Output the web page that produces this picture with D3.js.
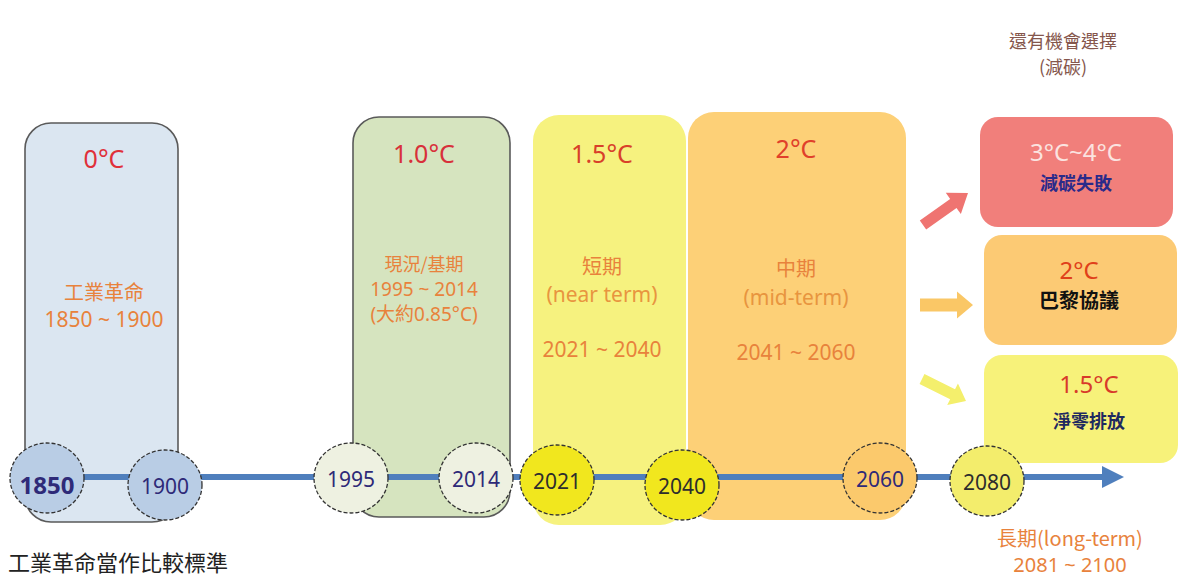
<!DOCTYPE html>
<html><head><meta charset="utf-8">
<script src="https://cdn.jsdelivr.net/npm/d3@7"></script>
<style>html,body{margin:0;padding:0;background:#fff}svg{display:block}</style>
</head><body>
<svg id="c" width="1188" height="580"></svg>
<script>
// ---- data ----
const years = [1850, 1900, 1995, 2014, 2021, 2040, 2060, 2080];
const periodNames = ["工業革命", "現況/基期", "短期", "中期"];
const periodSubs = ["", "", "(near term)", "(mid-term)"];
const periodRanges = ["1850 ~ 1900", "1995 ~ 2014", "2021 ~ 2040", "2041 ~ 2060"];
const periodTemps = ["0°C", "1.0°C", "1.5°C", "2°C"];
const periodNotes = ["", "(大約0.85°C)", "", ""];
const outcomeTemps = ["3°C~4°C", "2°C", "1.5°C"];
const outcomeLabels = ["減碳失敗", "巴黎協議", "淨零排放"];
const headerLines = ["還有機會選擇", "(減碳)"];
const longTermLines = ["長期(long-term)", "2081 ~ 2100"];
const footNote = "工業革命當作比較標準";

// ---- layout (positions / styles) ----
const yearX = [47, 165, 351, 476, 557, 682, 880, 987];
const yearY = [478, 485, 478, 478, 480, 485, 478, 481];
const x = d3.scaleLinear().domain(years).range(yearX);
const circleFill = ["#b9cde5", "#b9cde5", "#eef1e1", "#eef1e1", "#f1e71e", "#f1e71e", "#fbc96c", "#f3ed6c"];
const panels = [
  {x0:25, x1:178, y0:123, y1:522, fill:"#dbe6f1", stroke:"#5a5a5a", tx:104, tTemp:168, tName:300, tSub:null, tRange:327, tNote:null, tempColor:"#e0303a", fs:21},
  {x0:353, x1:510, y0:117, y1:517, fill:"#d6e4bf", stroke:"#5a5a5a", tx:424, tTemp:163, tName:271, tSub:null, tRange:296, tNote:321, tempColor:"#d8303a", fs:19},
  {x0:533, x1:686, y0:115, y1:525, fill:"#f6f27f", stroke:null, tx:602, tTemp:163, tName:274, tSub:302, tRange:357, tNote:null, tempColor:"#d8402a", fs:21},
  {x0:688, x1:906, y0:112, y1:520, fill:"#fdd077", stroke:null, tx:796, tTemp:158, tName:276, tSub:305, tRange:360, tNote:null, tempColor:"#e0402a", fs:21}
];
const outcomes = [
  {x0:980, x1:1173, y0:117, y1:227, fill:"#f17f7b", tempColor:"#fbe3e0", labColor:"#2a2a8a", tx:1076, ty1:161, ty2:190},
  {x0:984, x1:1177, y0:235, y1:345, fill:"#fcca74", tempColor:"#e0401a", labColor:"#111111", tx:1079, ty1:279, ty2:308},
  {x0:984, x1:1178, y0:355, y1:463, fill:"#f7f27a", tempColor:"#d83a2a", labColor:"#1f2a60", tx:1089, ty1:393, ty2:428}
];
const arrows = [
  {x1:923, y1:225, x2:968, y2:193, fill:"#ef7471", w:11, hw:26, hl:18},
  {x1:920, y1:305, x2:973, y2:305, fill:"#fac766", w:13, hw:27, hl:16},
  {x1:922, y1:379, x2:966, y2:401, fill:"#f4ef6c", w:11, hw:24, hl:15}
];

const svg = d3.select("#c");
const cjk = "'Noto Sans CJK TC','Noto Sans',sans-serif";
const lat = "'Noto Sans','Noto Sans CJK TC',sans-serif";

svg.selectAll("rect.panel").data(panels).join("rect")
  .attr("x", d => d.x0).attr("y", d => d.y0)
  .attr("width", d => d.x1 - d.x0).attr("height", d => d.y1 - d.y0)
  .attr("rx", 26).attr("ry", 26)
  .attr("fill", d => d.fill)
  .attr("stroke", d => d.stroke || "none").attr("stroke-width", 1.6);

svg.selectAll("rect.out").data(outcomes).join("rect")
  .attr("x", d => d.x0).attr("y", d => d.y0)
  .attr("width", d => d.x1 - d.x0).attr("height", d => d.y1 - d.y0)
  .attr("rx", 18).attr("ry", 18).attr("fill", d => d.fill);

arrows.forEach(a => {
  const dx = a.x2 - a.x1, dy = a.y2 - a.y1, L = Math.hypot(dx, dy);
  const ang = Math.atan2(dy, dx) * 180 / Math.PI;
  const p = [[0, -a.w/2], [L - a.hl, -a.w/2], [L - a.hl, -a.hw/2], [L, 0], [L - a.hl, a.hw/2], [L - a.hl, a.w/2], [0, a.w/2]];
  svg.append("path")
    .attr("d", d3.line()(p) + "Z")
    .attr("transform", `translate(${a.x1},${a.y1}) rotate(${ang})`)
    .attr("fill", a.fill);
});

const tlY = 477;
svg.append("line").attr("x1", x(1850)).attr("x2", 1104).attr("y1", tlY).attr("y2", tlY)
  .attr("stroke", "#4f7fbd").attr("stroke-width", 6);
svg.append("path").attr("d", d3.line()([[1102, tlY - 11], [1124, tlY], [1102, tlY + 11]]) + "Z")
  .attr("fill", "#4f7fbd");

const g = svg.selectAll("g.yr").data(years).join("g")
  .attr("transform", (d, i) => `translate(${x(d)},${yearY[i]})`);
g.append("ellipse").attr("rx", 37).attr("ry", 35)
  .attr("fill", (d, i) => circleFill[i])
  .attr("stroke", "#333").attr("stroke-width", 1.3).attr("stroke-dasharray", "4,2");
g.append("text").text(d => d)
  .attr("y", (d, i) => i === 0 ? 16 : 9)
  .attr("text-anchor", "middle")
  .attr("font-family", lat)
  .attr("font-size", (d, i) => i === 0 ? 24 : 21)
  .attr("font-weight", (d, i) => i === 0 ? "bold" : "normal")
  .attr("fill", (d, i) => (i === 4 || i === 5 || i === 7) ? "#2d2d2d" : "#2e2a78");

panels.forEach((p, i) => {
  const t = (s, y, size, color, fam) => svg.append("text").text(s)
    .attr("x", p.tx).attr("y", y).attr("text-anchor", "middle")
    .attr("font-family", fam || lat).attr("font-size", size).attr("fill", color);
  t(periodTemps[i], p.tTemp, 25, p.tempColor);
  t(periodNames[i], p.tName, p.fs - 1, "#e8823c", cjk);
  if (p.tSub) t(periodSubs[i], p.tSub, p.fs, "#e8953f");
  t(periodRanges[i], p.tRange, p.fs, "#e8823c");
  if (p.tNote) t(periodNotes[i], p.tNote, p.fs, "#e8823c");
});

outcomes.forEach((o, i) => {
  svg.append("text").text(outcomeTemps[i]).attr("x", o.tx).attr("y", o.ty1)
    .attr("text-anchor", "middle").attr("font-family", lat).attr("font-size", 24).attr("fill", o.tempColor);
  svg.append("text").text(outcomeLabels[i]).attr("x", o.tx).attr("y", o.ty2)
    .attr("text-anchor", "middle").attr("font-family", cjk).attr("font-size", i === 1 ? 20 : 18).attr("font-weight", "bold").attr("fill", o.labColor);
});

headerLines.forEach((s, i) => svg.append("text").text(s).attr("x", 1063).attr("y", 48 + i * 26)
  .attr("text-anchor", "middle").attr("font-family", cjk).attr("font-size", 18).attr("fill", "#85564c"));

svg.append("text").text(longTermLines[0]).attr("x", 1070).attr("y", 546)
  .attr("text-anchor", "middle").attr("font-family", cjk).attr("font-size", 20).attr("fill", "#e8823c");
svg.append("text").text(longTermLines[1]).attr("x", 1070).attr("y", 572)
  .attr("text-anchor", "middle").attr("font-family", lat).attr("font-size", 20).attr("fill", "#e8823c");

svg.append("text").text(footNote).attr("x", 8).attr("y", 571)
  .attr("font-family", cjk).attr("font-size", 22).attr("fill", "#222");
</script>
</body></html>
